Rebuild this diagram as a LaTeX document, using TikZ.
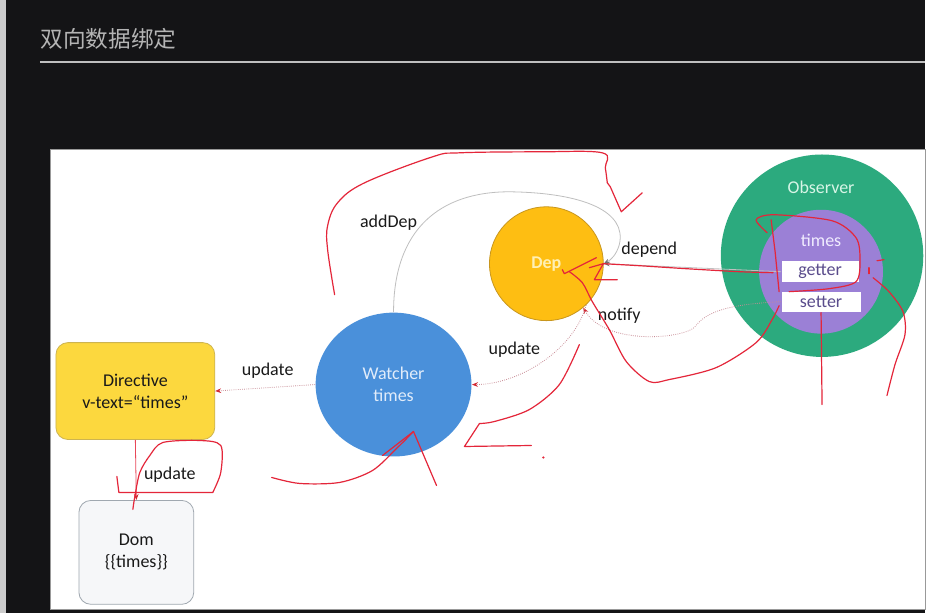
\documentclass[tikz,border=0pt]{standalone}
\usepackage{fontspec}
\setmainfont{Carlito}
\newfontfamily\cjk{Noto Sans CJK SC}
\usetikzlibrary{arrows.meta,shapes.geometric}

\definecolor{slate}{RGB}{20,20,22}
\definecolor{titlegrey}{RGB}{180,180,180}
\definecolor{depfill}{RGB}{254,190,18}
\definecolor{depedge}{RGB}{200,150,30}
\definecolor{watchfill}{RGB}{74,144,218}
\definecolor{obsfill}{RGB}{44,170,126}
\definecolor{timesfill}{RGB}{155,128,214}
\definecolor{tagtext}{RGB}{90,76,140}
\definecolor{dirfill}{RGB}{252,216,62}
\definecolor{domfill}{RGB}{246,247,249}
\definecolor{flowline}{RGB}{200,140,150}
\definecolor{tipred}{RGB}{210,40,50}
\definecolor{pen}{RGB}{228,38,58}

\tikzset{every picture/.style={line width=0.75pt}}
\tikzset{
  ball/.style={circle, inner sep=0pt, align=center, font=\fontsize{13.5}{16.5}\selectfont},
  tagbox/.style={rectangle, fill=white, inner sep=0pt, text=tagtext, font=\fontsize{13.5}{16.5}\selectfont},
  card/.style={rectangle, rounded corners=9pt, align=center, inner sep=0pt, text=black!90, font=\fontsize{13.5}{16.5}\selectfont},
  lbl/.style={inner sep=0.75pt, text=black!90, font=\fontsize{13.5}{16.5}\selectfont},
  flow/.style={draw=flowline, line width=0.6pt, densely dotted, -{Stealth[length=4.5pt,width=3.5pt,color=tipred]}},
  flowgrey/.style={draw=black!25, line width=0.6pt, -{Stealth[length=4.5pt,width=3.5pt,color=black!55]}},
  scrib/.style={draw=pen, line width=0.9pt, line cap=round, line join=round},
}

\begin{document}
\begin{tikzpicture}[x=0.75pt,y=0.75pt,yscale=-1,xscale=1]
%Shape: Background
\fill [slate] (0,0) rectangle (926,614) ;
\fill [black!20] (0,0) rectangle (6,614) ;
% Title
\draw (40,39) node (title) [anchor=west, inner sep=0pt, text=titlegrey, font=\cjk\fontsize{17}{17}\selectfont] {双向数据绑定};
\draw [titlegrey!85, line width=1.6] (40,62) -- (926,62) ;
%Shape: Panel
\draw [fill=white, draw=black!40, line width=0.5] (50,150) rectangle (926,610) ;

%Shape: Circles
\draw (823,256) node (observer) [ball, fill=obsfill, minimum size=152pt] {};
\draw (822,272) node (times) [ball, fill=timesfill, minimum size=93pt] {};
\draw (547,264) node (dep) [ball, fill=depfill, draw=depedge, line width=0.6pt, minimum size=85.5pt, text={rgb,255:red,255;green,240;blue,180}] {\textbf{Dep}};
\draw (394,385) node (watcher) [ball, ellipse, fill=watchfill, minimum width=117pt, minimum height=108pt, text={rgb,255:red,225;green,236;blue,250}] {Watcher\\times};
% Text Node
\draw (822,188) node [lbl, text={rgb,255:red,215;green,245;blue,230}] {Observer};
\draw (822,241) node [lbl, text={rgb,255:red,240;green,236;blue,255}] {times};
%Shape: Boxes
\draw (821,272) node (getter) [tagbox, minimum width=57.75pt, minimum height=15.75pt] {getter};
\draw (822,302) node (setter) [tagbox, minimum width=59.25pt, minimum height=15pt] {setter};
\draw (135.5,391.5) node (directive) [card, fill=dirfill, draw={rgb,255:red,205;green,180;blue,80}, line width=0.6pt, minimum width=119.25pt, minimum height=72.75pt] {Directive\\v-text=“times”};
\draw (136.5,553) node (dom) [card, fill=domfill, draw={rgb,255:red,160;green,168;blue,176}, line width=0.6pt, minimum width=86.25pt, minimum height=78pt] {Dom\\\{\{times\}\}};

%Curve Lines
\draw [flowgrey] (watcher.north) .. controls (394,230) and (440,192) .. (510,192) .. controls (585,193) and (628,212) .. (620,245) .. controls (617,255) and (612,260) .. (dep.east) ;
%Straight Lines
\draw [flowgrey] (getter.west) -- (dep.east) ;
%Curve Lines
\draw [flow] (setter.west) .. controls (720,305) and (705,315) .. (695,328) .. controls (680,340) and (605,345) .. (dep.-50) ;
\draw [flow] (dep.-46) .. controls (575,350) and (520,385) .. (watcher.east) ;
%Straight Lines
\draw [flow] (watcher.west) -- (directive.east) ;
\draw [flow, solid, draw=pen!85] (directive.south) -- (dom.north) ;

% Text Node
\draw (389,223) node [lbl] {addDep};
\draw (650,250) node [lbl] {depend};
\draw (620,316) node [lbl] {notify};
\draw (515,350) node [lbl] {update};
\draw (268,371) node [lbl] {update};
\draw (170,475) node [lbl] {update};

%Pen strokes
\draw [scrib] plot [smooth, tension=0.6] coordinates {(335,295) (328,250) (328,226) (338,203) (365,183) (433,157) (460,153) (540,152) (603,153) (606,168) (608,183)} ;
\draw [scrib] (608,183) -- (611,187) -- (622,212) -- (643,193) ;
\draw [scrib] plot [smooth, tension=0.5] coordinates {(774,273) (740,272) (687,269) (640,266) (604,264)} ;
\draw [scrib] (590,268) -- (604,264) -- (595,280) -- (618,280) ;
\draw [scrib] (597,258) -- (565,274) -- (563,270) ;
\draw [scrib] plot [smooth, tension=0.5] coordinates {(570,272) (583,283) (593,302) (610,330) (627,362) (650,382) (670,380) (717,368) (757,343) (773,320) (780,306)} ;
\draw [scrib] plot [smooth, tension=0.5] coordinates {(768,233) (757,220) (775,215) (833,221) (857,238) (861,260) (857,282) (830,289) (790,292)} ;
\draw [scrib] (772,220) -- (776,252) -- (780,292) ;
\draw [scrib] (822,313) -- (823,405) ;
\draw [scrib] plot [smooth, tension=0.5] coordinates {(888,396) (896,365) (906,335) (904,312) (890,292) (874,278)} ;
\draw [scrib] (870,274) -- (870,268) ;
\draw [scrib] (878,261) -- (885,260) ;
\draw [scrib] plot [smooth, tension=0.5] coordinates {(272,478) (300,484) (340,483) (373,471) (398,448) (414,432)} ;
\draw [scrib] (383,456) -- (414,432) -- (437,486) ;
\draw [scrib] plot [smooth, tension=0.5] coordinates {(580,345) (560,385) (530,410) (495,422) (480,424)} ;
\draw [scrib] (480,424) -- (465,447) -- (532,446) ;
\fill [pen] (544,458) circle (1.2) ;
\draw [scrib] (117,477) -- (119,493) -- (213,493) ;
\draw [scrib] plot [smooth, tension=0.5] coordinates {(213,493) (221,473) (221,446) (200,441) (163,443) (150,456) (140,473) (135,497) (133,510)} ;

\end{tikzpicture}
\end{document}
